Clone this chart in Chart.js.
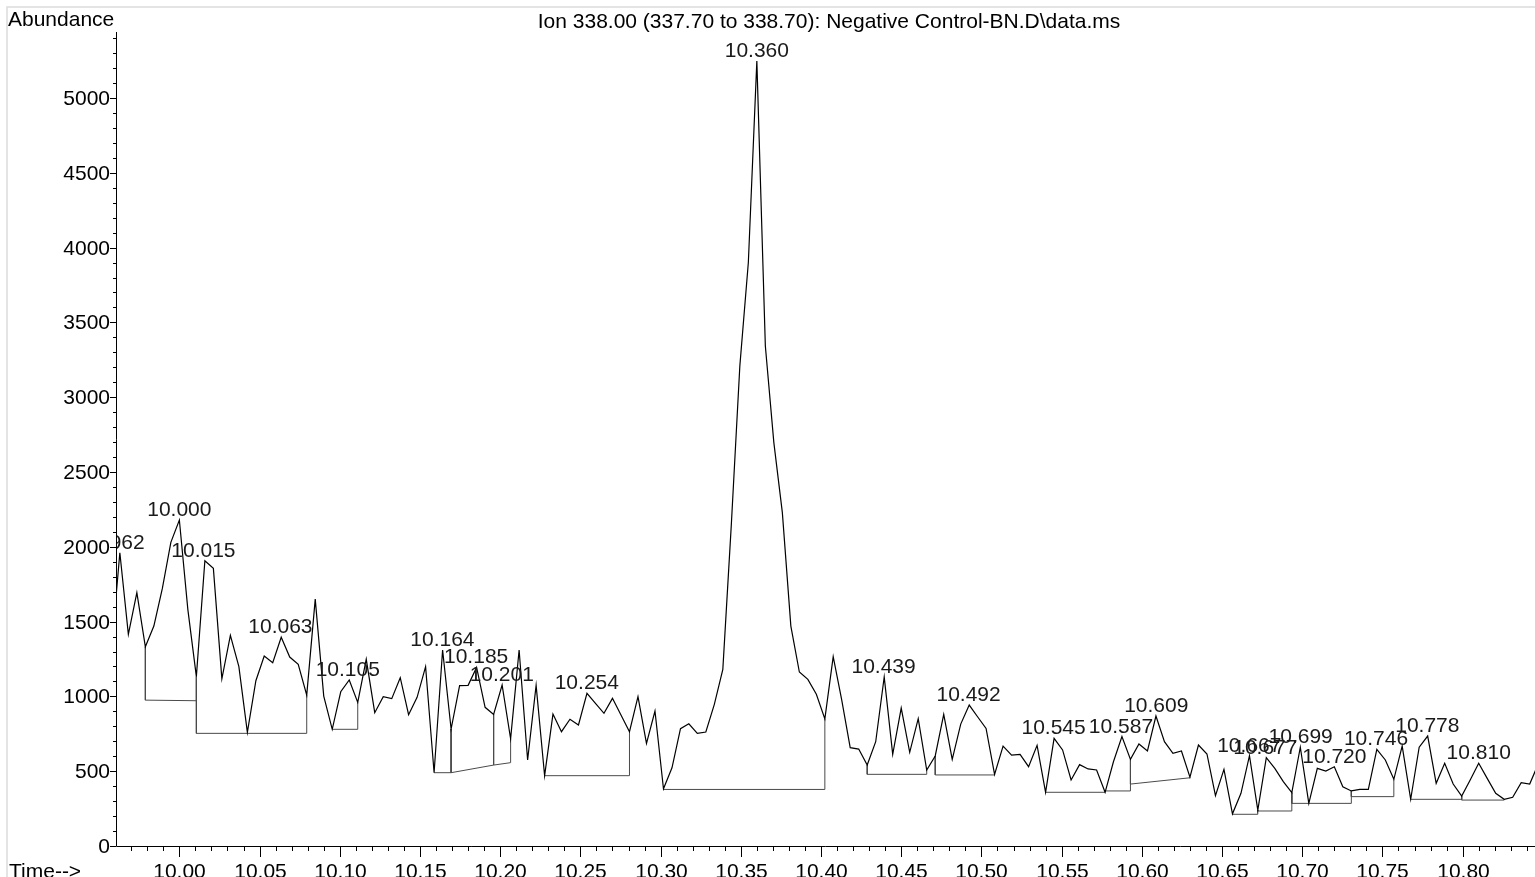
<!DOCTYPE html>
<html>
<head>
<meta charset="utf-8">
<script src="https://cdn.jsdelivr.net/npm/chart.js@4.4.0/dist/chart.umd.min.js"></script>
<style>
  html, body { margin: 0; padding: 0; background: #fff; overflow: hidden; }
</style>
</head>
<body>
<canvas id="ionChart" width="1535" height="877"></canvas>
<script>
// scan times (min)
const times = [
  9.9577, 9.9629, 9.9682, 9.9735, 9.9788, 9.9841, 9.9894, 9.9947, 10.0000, 10.0053,
  10.0106, 10.0159, 10.0212, 10.0265, 10.0318, 10.0371, 10.0424, 10.0477, 10.0529, 10.0582,
  10.0635, 10.0688, 10.0741, 10.0794, 10.0847, 10.0900, 10.0953, 10.1006, 10.1059, 10.1112,
  10.1165, 10.1218, 10.1271, 10.1324, 10.1377, 10.1429, 10.1482, 10.1535, 10.1588, 10.1641,
  10.1694, 10.1747, 10.1800, 10.1853, 10.1906, 10.1959, 10.2012, 10.2065, 10.2118, 10.2171,
  10.2224, 10.2277, 10.2329, 10.2382, 10.2435, 10.2488, 10.2541, 10.2594, 10.2647, 10.2700,
  10.2753, 10.2806, 10.2859, 10.2912, 10.2965, 10.3018, 10.3071, 10.3124, 10.3176, 10.3229,
  10.3282, 10.3335, 10.3388, 10.3441, 10.3494, 10.3547, 10.3600, 10.3653, 10.3706, 10.3759,
  10.3812, 10.3865, 10.3918, 10.3971, 10.4024, 10.4076, 10.4129, 10.4182, 10.4235, 10.4288,
  10.4341, 10.4394, 10.4447, 10.4500, 10.4553, 10.4606, 10.4659, 10.4712, 10.4765, 10.4818,
  10.4871, 10.4924, 10.4976, 10.5029, 10.5082, 10.5135, 10.5188, 10.5241, 10.5294, 10.5347,
  10.5400, 10.5453, 10.5506, 10.5559, 10.5612, 10.5665, 10.5718, 10.5771, 10.5823, 10.5876,
  10.5929, 10.5982, 10.6035, 10.6088, 10.6141, 10.6194, 10.6247, 10.6300, 10.6353, 10.6406,
  10.6459, 10.6512, 10.6565, 10.6618, 10.6671, 10.6723, 10.6776, 10.6829, 10.6882, 10.6935,
  10.6988, 10.7041, 10.7094, 10.7147, 10.7200, 10.7253, 10.7306, 10.7359, 10.7412, 10.7465,
  10.7518, 10.7571, 10.7623, 10.7676, 10.7729, 10.7782, 10.7835, 10.7888, 10.7941, 10.7994,
  10.8047, 10.8100, 10.8153, 10.8206, 10.8259, 10.8312, 10.8365, 10.8418, 10.8470
];

// ion 338.00 abundance at each scan
const abundance = [
  1320, 1960, 1415, 1693, 1332, 1470, 1722, 2030, 2179, 1580,
  1132, 1907, 1856, 1118, 1408, 1199, 760, 1105, 1270, 1225,
  1395, 1263, 1214, 1009, 1650, 1002, 780, 1031, 1110, 960,
  1248, 891, 998, 985, 1125, 878, 994, 1199, 490, 1310,
  782, 1072, 1074, 1194, 927, 880, 1076, 717, 1310, 575,
  1074, 470, 882, 764, 847, 809, 1021, 954, 887, 987,
  876, 764, 998, 686, 902, 383, 523, 784, 817, 753,
  762, 947, 1181, 2150, 3208, 3900, 5247, 3342, 2696, 2228,
  1470, 1163, 1114, 1014, 850, 1265, 976, 657, 648, 541,
  697, 1130, 613, 922, 626, 851, 508, 602, 880, 579,
  815, 942, 864, 786, 479, 668, 608, 613, 530, 673,
  359, 720, 642, 441, 544, 515, 508, 359, 563, 731,
  579, 682, 635, 869, 697, 620, 635, 460, 675, 615,
  336, 512, 215, 352, 604, 240, 590, 519, 430, 357,
  660, 285, 519, 501, 530, 396, 368, 379, 379, 646,
  575, 446, 668, 312, 660, 735, 419, 553, 414, 334,
  441, 553, 452, 352, 312, 326, 423, 414, 545
];

// integrated peaks: apex retention time labels
const peakTimes = [9.962, 10.000, 10.015, 10.063, 10.105, 10.164, 10.185, 10.201, 10.254, 10.360,
  10.439, 10.492, 10.545, 10.587, 10.609, 10.667, 10.677, 10.699, 10.720, 10.746, 10.778, 10.810];

// integration baselines (start scan, end scan, levels)
const baseStart = [9.9788, 10.0106, 10.0953, 10.1588, 10.1694, 10.1959, 10.2277, 10.3018, 10.4288, 10.4712,
  10.5400, 10.5771, 10.5929, 10.6565, 10.6723, 10.6935, 10.7041, 10.7306, 10.7676, 10.7994];
const baseEnd = [10.0106, 10.0794, 10.1112, 10.1694, 10.1959, 10.2065, 10.2806, 10.4024, 10.4659, 10.5082,
  10.5771, 10.5929, 10.6300, 10.6723, 10.6935, 10.7041, 10.7306, 10.7571, 10.7994, 10.8259];
const baseStartLevel = [975, 753, 780, 490, 490, 541, 470, 378, 479, 475, 359, 368, 414, 212, 234, 285, 285, 330, 312, 307];
const baseEndLevel = [971, 753, 780, 490, 541, 557, 470, 378, 479, 475, 359, 368, 456, 212, 234, 285, 285, 330, 312, 307];

const yTickMax = 5400;
const xTickStart = 9.97, xTickEnd = 10.84;

const FONT = '"Liberation Sans", Arial, sans-serif';

function traceAt(t) {
    const i = times.indexOf(t);
    return abundance[i];
}

const tracePoints = times.map((t, i) => ({ x: t, y: abundance[i] }));

const basePoints = [];
baseStart.forEach((t0, i) => {
    const t1 = baseEnd[i];
    basePoints.push({ x: t0, y: traceAt(t0) });
    basePoints.push({ x: t0, y: baseStartLevel[i] });
    basePoints.push({ x: t1, y: baseEndLevel[i] });
    basePoints.push({ x: t1, y: traceAt(t1) });
    basePoints.push({ x: t1, y: null });
});

// axes, ticks, titles and peak labels
const chromPlugin = {
    id: 'chromDecor',
    afterDraw(chart) {
        const ctx = chart.ctx;
        const area = chart.chartArea;
        const xs = chart.scales.x;
        const ys = chart.scales.y;
        ctx.save();

        // light frame
        ctx.strokeStyle = '#dcdcdc';
        ctx.lineWidth = 1.5;
        ctx.beginPath();
        ctx.moveTo(7, 877);
        ctx.lineTo(7, 7);
        ctx.lineTo(1535, 7);
        ctx.stroke();

        // axis lines
        ctx.strokeStyle = '#000';
        ctx.lineWidth = 1;
        ctx.beginPath();
        ctx.moveTo(area.left + 0.5, area.top);
        ctx.lineTo(area.left + 0.5, area.bottom + 0.5);
        ctx.lineTo(area.right, area.bottom + 0.5);
        ctx.stroke();

        ctx.font = '21px ' + FONT;
        ctx.fillStyle = '#000';

        // y ticks
        ctx.textAlign = 'right';
        ctx.textBaseline = 'middle';
        for (let v = 0; v <= yTickMax; v += 100) {
            const y = Math.round(ys.getPixelForValue(v)) + 0.5;
            const major = v % 500 === 0;
            ctx.beginPath();
            ctx.moveTo(area.left, y);
            ctx.lineTo(area.left - (major ? 6 : 3), y);
            ctx.stroke();
            if (major) ctx.fillText(String(v), area.left - 6, y + 1);
        }

        // x ticks
        ctx.textAlign = 'center';
        ctx.textBaseline = 'alphabetic';
        const n = Math.round((xTickEnd - xTickStart) * 100);
        for (let i = 0; i <= n; i++) {
            const t = Math.round((xTickStart + i / 100) * 100) / 100;
            const x = Math.round(xs.getPixelForValue(t)) + 0.5;
            const major = Math.round(t * 100) % 5 === 0;
            ctx.beginPath();
            ctx.moveTo(x, area.bottom);
            ctx.lineTo(x, area.bottom + (major ? 11 : 5));
            ctx.stroke();
            if (major) ctx.fillText(t.toFixed(2), x, 878);
        }

        // axis titles and header
        ctx.textAlign = 'left';
        ctx.fillText('Time-->', 9, 878);
        ctx.textBaseline = 'middle';
        ctx.fillText('Abundance', 8, 20);
        ctx.textAlign = 'center';
        ctx.fillText('Ion 338.00 (337.70 to 338.70): Negative Control-BN.D\\data.ms', 829, 22);

        // peak labels, clipped to plot area
        ctx.beginPath();
        ctx.rect(area.left + 1, 0, area.right - area.left, area.bottom);
        ctx.clip();
        ctx.fillStyle = '#1a1a1a';
        ctx.textAlign = 'center';
        ctx.textBaseline = 'alphabetic';
        peakTimes.forEach(pt => {
            let best = 0;
            times.forEach((t, i) => {
                if (Math.abs(t - pt) < Math.abs(times[best] - pt)) best = i;
            });
            const x = xs.getPixelForValue(pt);
            const y = ys.getPixelForValue(abundance[best]);
            ctx.fillText(pt.toFixed(3), x, y - 4);
        });
        ctx.restore();
    }
};

const ionCtx = document.getElementById('ionChart');
new Chart(ionCtx.getContext('2d'), {
    type: 'line',
    data: {
        datasets: [{
            label: 'Ion 338.00',
            data: tracePoints,
            borderColor: '#000',
            borderWidth: 1.2,
            pointRadius: 0,
            tension: 0,
            fill: false
        }, {
            label: 'Baselines',
            data: basePoints,
            borderColor: '#4a4a4a',
            borderWidth: 1,
            pointRadius: 0,
            tension: 0,
            spanGaps: false,
            fill: false
        }]
    },
    options: {
        responsive: false,
        animation: false,
        events: [],
        layout: {
            padding: { left: 116, top: 32, right: 0, bottom: 31 }
        },
        plugins: {
            legend: { display: false },
            tooltip: { enabled: false }
        },
        scales: {
            x: {
                type: 'linear',
                min: 9.9605,
                max: 10.8451,
                display: false
            },
            y: {
                min: 0,
                max: 5441,
                display: false
            }
        }
    },
    plugins: [chromPlugin]
});
</script>
</body>
</html>
